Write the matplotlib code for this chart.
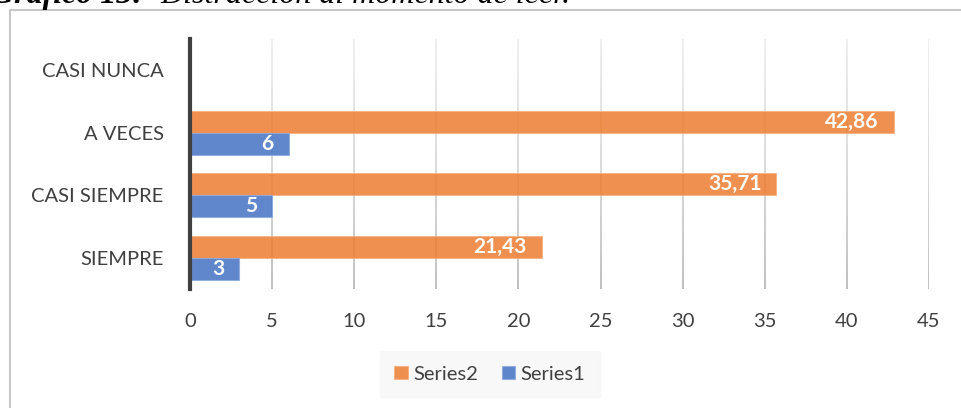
import matplotlib.pyplot as plt
import numpy as np
from matplotlib.collections import LineCollection
from matplotlib.patches import Rectangle

categorias = ['SIEMPRE', 'CASI SIEMPRE', 'A VECES', 'CASI NUNCA']
series1 = [3, 5, 6, np.nan]
series2 = [21.43, 35.71, 42.86, np.nan]
xticks = [0, 5, 10, 15, 20, 25, 30, 35, 40, 45]

W, H = 961, 408
plt.rcParams['font.family'] = ['Lato', 'DejaVu Sans']

fig = plt.figure(figsize=(W / 100, H / 100), dpi=100)

# marco del grafico (borde gris)
fig.patches.append(Rectangle((10 / W, -0.05), 1.0, 1 - 10 / H + 0.05,
                             transform=fig.transFigure, fill=False,
                             edgecolor='#c8c8c8', lw=1.5))

# titulo (cortado arriba, como en la imagen)
fig.text(143 / W, 1 - 3 / H, 'Gráfico 13:', family='Liberation Serif',
         style='italic', weight='bold', fontsize=23, va='baseline', ha='right')
fig.text(160 / W, 1 - 3 / H, 'Distracción al momento de leer.', family='Liberation Serif',
         style='italic', fontsize=23, va='baseline')

ax = fig.add_axes([190 / W, 1 - 289 / H, (929 - 190) / W, 250 / H])
ax.set_xlim(0, 45)
ax.set_ylim(-0.5, 3.5)

y = np.arange(len(categorias))
h = 0.35
b2 = ax.barh(y + h / 2, series2, height=h, color='#ED7D31', alpha=0.85,
             edgecolor='#F4B183', lw=0.8, label='Series2', zorder=3)
b1 = ax.barh(y - h / 2, series1, height=h, color='#4472C4', alpha=0.85,
             edgecolor='#8FAADC', lw=0.8, label='Series1', zorder=3)

for yy, v in zip(y + h / 2, series2):
    if not np.isnan(v):
        ax.annotate(f'{v:.2f}'.replace('.', ','), (v, yy), xytext=(-15, 0),
                    textcoords='offset pixels', ha='right', va='center',
                    color='white', weight='bold', fontsize=15, zorder=5)
for yy, v in zip(y - h / 2, series1):
    if not np.isnan(v):
        ax.annotate(f'{v:g}', (v, yy), xytext=(-15, 0), textcoords='offset pixels',
                    ha='right', va='center', color='white', weight='bold',
                    fontsize=15, zorder=5)

# lineas de cuadricula con degradado
n = 40
ts = np.linspace(3.5, -0.5, n + 1)
for xv in xticks[1:]:
    segs = [[(xv, ts[i]), (xv, ts[i + 1])] for i in range(n)]
    cols = plt.cm.Greys(np.linspace(0.15, 0.4, n))
    ax.add_collection(LineCollection(segs, colors=cols, lw=1.2, zorder=1))

for s in ['top', 'right', 'bottom']:
    ax.spines[s].set_visible(False)
ax.spines['left'].set_color('#404040')
ax.spines['left'].set_linewidth(3)
ax.spines['left'].set_zorder(4)

ax.set_xticks(xticks)
ax.set_yticks(y)
ax.set_yticklabels(categorias)
ax.tick_params(axis='y', length=0, pad=19, labelsize=14.5, colors='#404040')
ax.tick_params(axis='x', length=0, pad=17, labelsize=14.5, colors='#404040')

leg = ax.legend(handles=[b2, b1], loc='center', bbox_to_anchor=(490 / W, 1 - 374 / H),
                bbox_transform=fig.transFigure, ncol=2, frameon=True, fontsize=14.5,
                handlelength=0.65, handleheight=0.65, handletextpad=0.3, columnspacing=1.15,
                borderpad=0.7, fancybox=False)
leg.get_frame().set_facecolor('#f7f7f7')
leg.get_frame().set_edgecolor('#f7f7f7')
for t in leg.get_texts():
    t.set_color('#404040')

fig.savefig('out.png', dpi=100)
